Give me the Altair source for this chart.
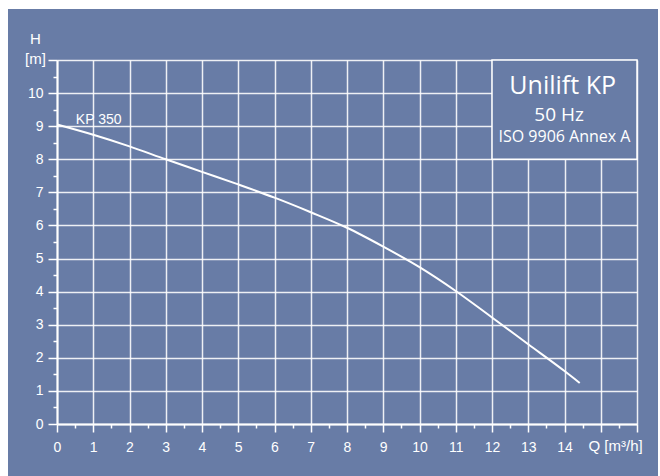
import altair as alt
import pandas as pd

# Pump curve: flow Q [m³/h] against head H [m]
flow = [0, 1, 2, 3, 4, 5, 6, 7, 8, 9, 10, 11, 12, 13, 14, 14.42]
head = [9.05, 8.74, 8.39, 8.0, 7.62, 7.24, 6.84, 6.4, 5.93, 5.36, 4.74, 4.02, 3.22, 2.41, 1.6, 1.24]
curve_name = "KP 350"
box_lines = ["Unilift KP", "50 Hz", "ISO 9906 Annex A"]

BG = "#687ca6"
FG = "white"
FONT = "Liberation Sans"
BOX_FONT = "Open Sans"
W, H = 580, 364
PAD = {"left": 57, "top": 60, "right": 23, "bottom": 52}

df = pd.DataFrame({"Q": flow, "H": head})
one = pd.DataFrame({"k": [0]})

# major ticks on whole units, short minor ticks on the halves
x_ticks = [i / 2 for i in range(33)]
y_ticks = [i / 2 for i in range(23)]
minor = "datum.value % 1 != 0"

x_axis = alt.Axis(
    values=x_ticks, tickCount=100,
    title="Q [m³/h]",
    titleX=531, titleY=26, titleAlign="left", titleBaseline="alphabetic",
    labelExpr="(datum.value % 1 != 0 || datum.value > 14) ? '' : '' + datum.value",
    labelPadding=8,
    tickSize={"condition": {"test": minor, "value": 4}, "value": 8},
    gridOpacity={"condition": {"test": minor, "value": 0}, "value": 0.88},
)

y_axis = alt.Axis(
    values=y_ticks, tickCount=100,
    title=["H", "[m]"],
    titleAngle=0, titleX=-22, titleY=-17, titleAlign="center",
    titleBaseline="alphabetic", titleLineHeight=20,
    labelExpr="(datum.value % 1 != 0 || datum.value > 10) ? '' : '' + datum.value",
    labelPadding=5,
    tickSize={"condition": {"test": minor, "value": 4}, "value": 9},
    gridOpacity={"condition": {"test": minor, "value": 0}, "value": 0.88},
)

x_scale = alt.Scale(domain=[0, 16], nice=False, zero=False)
y_scale = alt.Scale(domain=[0, 11], nice=False, zero=False)

curve = alt.Chart(df).mark_line(
    color=FG, strokeWidth=2, interpolate="monotone"
).encode(
    x=alt.X("Q:Q", scale=x_scale, axis=x_axis),
    y=alt.Y("H:Q", scale=y_scale, axis=y_axis),
)

curve_label = alt.Chart(one).mark_text(
    text=curve_name, color=FG, font=FONT, fontSize=14,
    align="left", baseline="alphabetic", dy=-2,
).encode(x=alt.datum(0.52), y=alt.datum(9.0))

# white page margin around the blue panel
margin_left = alt.Chart(one).mark_rect(color="white").encode(
    x=alt.value(-57), x2=alt.value(-49), y=alt.value(-60), y2=alt.value(416)
)
margin_top = alt.Chart(one).mark_rect(color="white").encode(
    x=alt.value(-57), x2=alt.value(603), y=alt.value(-60), y2=alt.value(-51)
)
margin_right = alt.Chart(one).mark_rect(color="white").encode(
    x=alt.value(601), x2=alt.value(603), y=alt.value(-60), y2=alt.value(416)
)

info_box = alt.Chart(one).mark_rect(
    fill=BG, stroke=FG, strokeWidth=1.5
).encode(x=alt.datum(12), x2=alt.datum(16), y=alt.datum(8), y2=alt.datum(11))

title_line = alt.Chart(one).mark_text(
    text=box_lines[0], color=FG, font=BOX_FONT, fontSize=25,
    align="center", baseline="alphabetic",
).encode(x=alt.datum(13.95), y=alt.datum(9.96))
freq_line = alt.Chart(one).mark_text(
    text=box_lines[1], color=FG, font=BOX_FONT, fontSize=19,
    align="center", baseline="alphabetic",
).encode(x=alt.datum(13.85), y=alt.datum(9.16))
std_line = alt.Chart(one).mark_text(
    text=box_lines[2], color=FG, font=BOX_FONT, fontSize=16,
    align="center", baseline="alphabetic",
).encode(x=alt.datum(14), y=alt.datum(8.53))

chart = alt.layer(
    curve, curve_label, info_box, title_line, freq_line, std_line,
    margin_left, margin_top, margin_right,
).properties(
    width=W, height=H, padding=PAD,
    autosize=alt.AutoSizeParams(type="none"),
    background=BG,
).configure_view(
    strokeWidth=0
).configure_axis(
    labelColor=FG, labelFont=FONT, labelFontSize=14,
    labelOverlap=False, labelFlush=False, labelBound=False,
    tickColor=FG, tickWidth=1.5,
    domainColor=FG, domainWidth=2,
    grid=True, gridColor=FG, gridWidth=1.5,
    titleColor=FG, titleFont=FONT, titleFontSize=15, titleFontWeight="normal",
)

chart.save("out.html", embed_options={"renderer": "svg", "actions": False})
